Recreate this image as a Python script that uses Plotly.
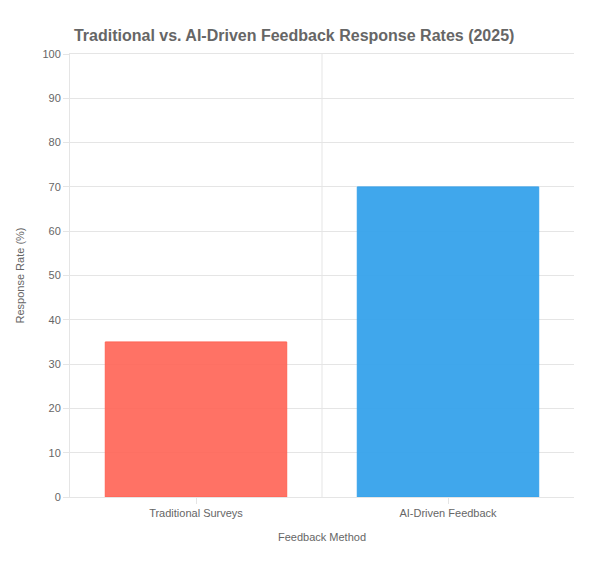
import plotly.graph_objects as go

categories = ["Traditional Surveys", "AI-Driven Feedback"]
values = [35, 70]
colors = ["rgba(255,99,84,0.9)", "rgba(54,162,235,0.95)"]
line_colors = ["rgba(255,99,84,1)", "rgba(54,162,235,1)"]

fig = go.Figure(go.Bar(
    x=categories, y=values, width=0.72,
    marker=dict(color=colors, line=dict(color=line_colors, width=1)),
))
fig.add_shape(type="line", xref="x", yref="paper", x0=0.5, x1=0.5, y0=0, y1=1,
              line=dict(color="#e5e5e5", width=1), layer="below")
fig.update_layout(
    width=590, height=562,
    margin=dict(l=59, r=24, t=46, b=73),
    paper_bgcolor="white", plot_bgcolor="white",
    font=dict(family="Helvetica, Arial, Liberation Sans, sans-serif", size=11, color="#666"),
    title=dict(text="<b>Traditional vs. AI-Driven Feedback Response Rates (2025)</b>",
               x=0.485, xanchor="center", y=0.952, yanchor="middle",
               font=dict(size=16, color="#666")),
    showlegend=False, bargap=0.28,
    xaxis=dict(title=dict(text="Feedback Method", font=dict(size=11)), range=[-0.5, 1.5],
               showgrid=False, showline=True, linecolor="#e5e5e5", mirror=True,
               ticks="outside", ticklen=6, tickcolor="#e5e5e5"),
    yaxis=dict(title=dict(text="Response Rate (%)", font=dict(size=11)), range=[0, 100], dtick=10,
               gridcolor="#e5e5e5", showline=True, linecolor="#e5e5e5", zeroline=False,
               ticks="outside", ticklen=6, tickcolor="#e5e5e5"),
)
fig.write_html("out.html")
